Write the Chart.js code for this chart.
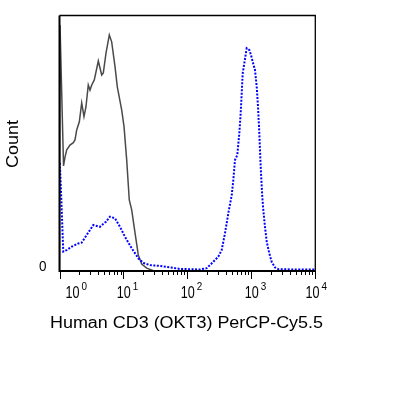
<!DOCTYPE html>
<html>
<head>
<meta charset="utf-8">
<script src="https://cdn.jsdelivr.net/npm/chart.js@4/dist/chart.umd.min.js"></script>
<style>
  html, body { margin: 0; padding: 0; background: #fff; }
  #wrap { width: 415px; height: 395px; }
</style>
</head>
<body>
<div id="wrap"><canvas id="histo" width="415" height="395"></canvas></div>
<script>
// ── Data (x in decades, log10 of fluorescence; y in % of max count) ──
const isoX = [0, 0.008, 0.063, 0.086, 0.113, 0.164, 0.216, 0.242, 0.269, 0.310, 0.347, 0.383, 0.414,
  0.450, 0.477, 0.504, 0.544, 0.607, 0.660, 0.685, 0.727, 0.779, 0.816, 0.868, 0.904, 0.973, 1.009,
  1.051, 1.091, 1.129, 1.181, 1.232, 1.285, 1.364, 1.467, 2.0, 3.0, 4.0];
const isoY = [0, 96.3, 41.1, 44.6, 47.4, 49.3, 50.2, 51.3, 55.2, 58.4, 65.8, 60.4, 64.3,
  72.8, 70.8, 72.8, 74.8, 82.2, 76.7, 77.5, 85.3, 92.4, 89.7, 80.0, 72.1, 63.0, 56.5,
  43.4, 27.8, 23.9, 14.9, 6.3, 2.7, 1.1, 0.1, 0.1, 0.1, 0.1];

const cd3X = [0.005, 0.023, 0.059, 0.113, 0.191, 0.294, 0.347, 0.425, 0.529, 0.633, 0.727, 0.790,
  0.868, 0.946, 1.024, 1.129, 1.232, 1.310, 1.415, 1.572, 1.728, 1.884, 2.197, 2.302, 2.405, 2.483,
  2.536, 2.588, 2.640, 2.693, 2.718, 2.744, 2.780, 2.812, 2.833, 2.849, 2.865, 2.890, 2.927, 2.968,
  2.995, 3.021, 3.057, 3.084, 3.104, 3.120, 3.135, 3.151, 3.171, 3.187, 3.213, 3.240, 3.281, 3.318,
  3.370, 3.421, 3.7, 4.0];
const cd3Y = [42.3, 31.7, 7.6, 8.2, 9.5, 10.8, 11.1, 14.1, 18.0, 17.3, 19.3, 21.3,
  20.6, 17.3, 13.4, 8.9, 5.0, 3.2, 2.3, 2.0, 1.4, 0.8, 0.6, 1.1, 3.6, 5.6,
  8.2, 14.8, 22.6, 29.7, 35.6, 43.4, 45.4, 53.9, 61.7, 69.5, 77.4, 81.3, 87.2, 86.5,
  84.5, 81.9, 78.7, 72.1, 64.3, 56.5, 47.4, 38.2, 29.1, 23.9, 17.3, 11.5, 6.9, 3.6,
  1.4, 0.7, 0.6, 0.6];

const majorTicks = [0, 1, 2, 3, 4];
const tickExp = ['0', '1', '2', '3', '4'];
const xTitle = 'Human CD3 (OKT3) PerCP-Cy5.5';
const yTitle = 'Count';

const pts = (xs, ys) => xs.map((x, i) => ({ x, y: ys[i] }));

// ── helpers ───────────────────────────────────────────────────
function stretchText(ctx, text, x, y, font, targetW, align) {
  ctx.save();
  ctx.font = font;
  const w = ctx.measureText(text).width;
  const sx = targetW ? targetW / w : 1;
  const drawW = w * sx;
  let left = x;
  if (align === 'center') left = x - drawW / 2;
  if (align === 'right') left = x - drawW;
  ctx.translate(left, y);
  ctx.scale(sx, 1);
  ctx.textAlign = 'left';
  ctx.textBaseline = 'alphabetic';
  ctx.fillText(text, 0, 0);
  ctx.restore();
}

// ── axes / frame plugin ───────────────────────────────────────
const flowAxes = {
  id: 'flowAxes',
  afterDatasetsDraw(chart) {
    const { ctx, chartArea: a } = chart;
    const xs = chart.scales.x;
    ctx.save();
    ctx.fillStyle = '#000';
    ctx.strokeStyle = '#000';

    // thin top / right frame
    ctx.lineWidth = 1.3;
    ctx.beginPath();
    ctx.moveTo(a.left, a.top);
    ctx.lineTo(a.right, a.top);
    ctx.lineTo(a.right, a.bottom);
    ctx.stroke();

    // heavier left / bottom axes
    ctx.lineWidth = 2;
    ctx.beginPath();
    ctx.moveTo(a.left, a.top);
    ctx.lineTo(a.left, a.bottom);
    ctx.lineTo(a.right, a.bottom);
    ctx.stroke();

    // ticks
    ctx.lineWidth = 1;
    majorTicks.forEach((d, i) => {
      const px = Math.round(xs.getPixelForValue(d)) + 0.5;
      ctx.beginPath();
      ctx.moveTo(px, a.bottom);
      ctx.lineTo(px, a.bottom + 8);
      ctx.stroke();
      if (i < majorTicks.length - 1) {
        for (let k = 2; k <= 9; k++) {
          const mx = Math.round(xs.getPixelForValue(d + Math.log10(k))) + 0.5;
          ctx.beginPath();
          ctx.moveTo(mx, a.bottom);
          ctx.lineTo(mx, a.bottom + 4);
          ctx.stroke();
        }
      }
    });

    // tick labels "10^n"
    majorTicks.forEach((d, i) => {
      const px = xs.getPixelForValue(d);
      let left = px - 6.7;
      if (left < a.left + 6) left = a.left + 6;
      if (i === majorTicks.length - 1) left -= 3;
      stretchText(ctx, '10', left, 298, '17px "Liberation Sans", Arial, sans-serif', 14, 'left');
      stretchText(ctx, tickExp[i], left + 16, 290, '11px "Liberation Sans", Arial, sans-serif', 5.5, 'left');
    });

    // y "0" label
    stretchText(ctx, '0', 46.5, 271, '14px "Liberation Sans", Arial, sans-serif', 7.5, 'right');

    // axis titles
    stretchText(ctx, xTitle, 186.5, 328, '16px "Liberation Sans", Arial, sans-serif', 273, 'center');
    ctx.save();
    ctx.translate(18.3, 144);
    ctx.rotate(-Math.PI / 2);
    stretchText(ctx, yTitle, 0, 0, '16px "Liberation Sans", Arial, sans-serif', 48, 'center');
    ctx.restore();

    ctx.restore();
  }
};

// ── chart ─────────────────────────────────────────────────────
new Chart(document.getElementById('histo').getContext('2d'), {
  type: 'line',
  data: {
    datasets: [
      {
        label: 'CD3',
        data: pts(cd3X, cd3Y),
        borderColor: '#0000ff',
        borderWidth: 2,
        borderDash: [2, 1.5],
        pointRadius: 0,
        tension: 0,
        fill: false
      },
      {
        label: 'Isotype',
        data: pts(isoX, isoY),
        borderColor: '#4a4a4a',
        borderWidth: 1.5,
        pointRadius: 0,
        tension: 0,
        fill: false
      }
    ]
  },
  options: {
    responsive: false,
    animation: false,
    layout: { padding: { left: 59.5, right: 99.7, top: 15.5, bottom: 124 } },
    plugins: { legend: { display: false }, tooltip: { enabled: false } },
    scales: {
      x: { type: 'linear', min: 0, max: 4, display: false },
      y: { type: 'linear', min: 0, max: 100, display: false }
    }
  },
  plugins: [flowAxes]
});
</script>
</body>
</html>
